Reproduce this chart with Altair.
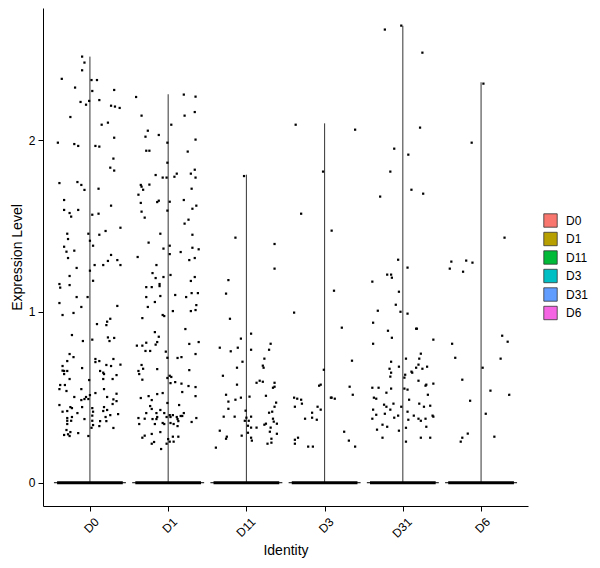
import json
import pandas as pd
import altair as alt

identities = ["D0", "D1", "D11", "D3", "D31", "D6"]
fill_colors = ["#F8766D", "#B79F00", "#00BA38", "#00BFC4", "#619CFF", "#F564E3"]
violin_max = [2.49, 2.27, 1.80, 2.10, 2.67, 2.34]

# non-zero cells: (jitter offset in category units, expression level)
points_D0 = [
    (-0.10, 2.49), (-0.07, 2.455), (-0.10, 2.41), (-0.36, 2.36), (0.02, 2.353), (0.09, 2.353),
    (-0.19, 2.309), (0.03, 2.289), (0.31, 2.295), (-0.12, 2.225), (-0.01, 2.231), (-0.05, 2.209),
    (0.12, 2.236), (0.27, 2.203), (0.32, 2.198), (0.38, 2.19), (-0.25, 2.137), (0.15, 2.092),
    (0.23, 2.104), (0.31, 2.016), (-0.41, 1.987), (-0.20, 1.979), (-0.15, 1.968), (0.07, 1.968),
    (0.12, 1.964), (0.30, 1.894), (0.26, 1.841), (0.31, 1.824), (-0.39, 1.751), (-0.16, 1.757),
    (-0.11, 1.74), (-0.07, 1.711), (0.11, 1.718), (-0.33, 1.652), (0.27, 1.619), (-0.33, 1.594),
    (-0.26, 1.576), (-0.24, 1.555), (-0.15, 1.594), (0.03, 1.566), (0.11, 1.572), (0.39, 1.49),
    (0.20, 1.471), (-0.29, 1.455), (-0.02, 1.455), (0.12, 1.449), (-0.28, 1.424), (0.00, 1.414),
    (-0.33, 1.379), (0.04, 1.385),
    (-0.30, 1.35), (-0.20, 1.356), (-0.28, 1.313), (-0.17, 1.255), (-0.26, 1.208), (-0.39, 1.161),
    (-0.38, 1.14), (-0.26, 1.155), (-0.17, 1.085), (-0.03, 1.085), (-0.39, 1.05), (-0.11, 1.027),
    (-0.35, 0.98), (-0.21, 0.992), (0.00, 1.239), (0.04, 1.18), (0.06, 1.272), (0.17, 1.272),
    (0.23, 1.296), (0.27, 1.331), (0.35, 1.301), (0.39, 1.272), (0.35, 1.033), (0.26, 0.958),
    (0.22, 0.941), (0.21, 0.921), (0.09, 0.927), (-0.23, 0.863), (-0.09, 0.828), (0.03, 0.836),
    (0.23, 0.849), (0.31, 0.846), (0.25, 0.828), (-0.26, 0.752), (-0.21, 0.734), (-0.29, 0.711),
    (-0.35, 0.682), (-0.35, 0.655), (-0.33, 0.653), (-0.29, 0.653), (-0.33, 0.635), (-0.10, 0.67),
    (-0.26, 0.606), (0.07, 0.723), (0.07, 0.705), (0.12, 0.711), (0.30, 0.723), (0.39, 0.69),
    (0.21, 0.688), (0.27, 0.682), (0.13, 0.653), (0.17, 0.643), (0.18, 0.635), (0.34, 0.629),
    (0.17, 0.606), (0.29, 0.606), (-0.01, 0.60), (-0.38, 0.571), (-0.32, 0.571), (-0.39, 0.547),
    (-0.11, 0.547), (-0.30, 0.536), (0.00, 0.512), (0.07, 0.524), (0.18, 0.547), (0.34, 0.52),
    (-0.20, 0.501), (-0.05, 0.501), (-0.07, 0.489), (-0.11, 0.483), (-0.02, 0.489), (0.22, 0.501),
    (0.30, 0.487), (0.34, 0.477), (-0.39, 0.454), (-0.25, 0.442), (-0.23, 0.436), (-0.10, 0.442),
    (-0.35, 0.415), (-0.29, 0.419), (-0.16, 0.407), (0.03, 0.436), (0.04, 0.415), (0.18, 0.442),
    (0.22, 0.425), (0.29, 0.46), (0.17, 0.419), (0.26, 0.395), (0.36, 0.401), (-0.29, 0.378),
    (-0.23, 0.384), (-0.29, 0.362), (-0.24, 0.362), (0.03, 0.392), (0.03, 0.362), (-0.07, 0.372),
    (0.20, 0.384), (0.13, 0.36), (0.21, 0.36), (-0.29, 0.343), (0.04, 0.337), (0.02, 0.321),
    (0.12, 0.331), (0.30, 0.32), (-0.30, 0.308), (-0.25, 0.296), (-0.28, 0.283), (-0.33, 0.279),
    (-0.15, 0.29), (-0.02, 0.273), (-0.26, 0.273),
]

points_D1 = [
    (-0.41, 2.254), (0.20, 2.268), (0.35, 2.256), (0.34, 2.166), (0.21, 2.145), (-0.34, 2.145),
    (0.04, 2.092), (-0.26, 2.057), (-0.12, 2.032), (-0.29, 2.022), (0.35, 2.005), (-0.28, 1.94),
    (-0.24, 1.94), (0.25, 1.935), (-0.01, 1.987), (-0.01, 1.87), (0.34, 1.829), (-0.16, 1.798),
    (-0.07, 1.783), (-0.02, 1.783), (0.08, 1.788), (0.11, 1.806), (0.29, 1.806), (0.35, 1.783),
    (-0.35, 1.74), (-0.34, 1.73), (-0.24, 1.742), (-0.32, 1.712), (0.30, 1.718), (-0.38, 1.683),
    (-0.35, 1.635), (-0.14, 1.64), (-0.12, 1.648), (0.02, 1.642), (0.20, 1.652), (0.36, 1.619),
    (0.31, 1.601), (-0.34, 1.584), (-0.30, 1.549), (-0.01, 1.59), (0.26, 1.537), (0.21, 1.514),
    (-0.10, 1.455), (0.31, 1.449), (-0.25, 1.403), (-0.06, 1.368), (0.02, 1.385), (0.31, 1.373),
    (0.39, 1.364),
    (0.02, 1.336), (0.16, 1.348), (-0.39, 1.319), (-0.15, 1.272), (0.34, 1.313), (0.27, 1.301),
    (-0.20, 1.225), (-0.16, 1.196), (-0.06, 1.202), (0.03, 1.214), (0.34, 1.202), (0.29, 1.179),
    (-0.28, 1.143), (-0.21, 1.143), (-0.11, 1.161), (-0.11, 1.149), (0.09, 1.097), (-0.28, 1.085),
    (-0.10, 1.091), (0.23, 1.085), (0.30, 1.108), (0.38, 1.108), (-0.17, 1.056), (-0.26, 1.027),
    (0.36, 1.038), (0.35, 1.009), (0.29, 1.003), (0.06, 1.003), (-0.33, 0.962), (-0.07, 0.98),
    (-0.05, 0.974), (0.22, 0.898), (-0.17, 0.88), (-0.12, 0.853), (-0.14, 0.822), (-0.16, 0.807),
    (-0.28, 0.818), (-0.40, 0.801), (-0.33, 0.801), (-0.29, 0.77), (-0.23, 0.77), (-0.03, 0.766),
    (0.27, 0.811), (0.39, 0.822), (0.35, 0.752), (0.12, 0.729), (0.17, 0.734), (-0.01, 0.73),
    (-0.34, 0.688), (-0.32, 0.666), (-0.38, 0.653), (-0.37, 0.635), (-0.14, 0.664), (0.27, 0.658),
    (-0.33, 0.602), (-0.01, 0.612), (0.02, 0.625), (0.04, 0.618), (0.09, 0.588), (0.03, 0.582),
    (0.17, 0.579), (0.26, 0.565), (0.35, 0.559), (0.18, 0.53), (0.35, 0.506), (-0.14, 0.518),
    (-0.07, 0.524), (-0.01, 0.466), (-0.35, 0.495), (-0.25, 0.506), (-0.21, 0.483), (0.14, 0.454),
    (-0.23, 0.448), (-0.21, 0.431), (-0.28, 0.407), (-0.10, 0.425), (-0.15, 0.407), (-0.05, 0.407),
    (0.02, 0.395), (-0.14, 0.384), (-0.20, 0.372), (-0.15, 0.372), (-0.30, 0.374), (-0.38, 0.378),
    (-0.37, 0.343), (-0.17, 0.343), (-0.07, 0.349), (-0.05, 0.343), (-0.02, 0.384), (0.03, 0.384),
    (0.06, 0.395), (0.11, 0.384), (0.12, 0.372), (0.16, 0.39), (0.18, 0.39), (0.20, 0.407),
    (0.13, 0.36), (0.03, 0.349), (0.07, 0.343), (0.12, 0.331), (0.30, 0.355), (0.36, 0.378),
    (-0.10, 0.296), (-0.21, 0.285), (-0.33, 0.263), (-0.30, 0.275), (0.00, 0.255), (0.06, 0.269),
    (0.13, 0.269), (-0.02, 0.228), (-0.21, 0.228), (0.02, 0.24), (0.07, 0.24), (-0.09, 0.197),
    (-0.18, 0.238),
]

points_D11 = [
    (-0.03, 1.792), (-0.14, 1.432), (0.36, 1.395), (0.36, 1.251), (-0.23, 1.184), (-0.26, 1.105),
    (-0.21, 0.958), (0.06, 0.871), (-0.07, 0.842), (-0.34, 0.789), (-0.20, 0.768), (-0.11, 0.789),
    (0.06, 0.777), (0.31, 0.812), (0.29, 0.777), (-0.05, 0.707), (0.23, 0.725), (-0.12, 0.672),
    (0.21, 0.684), (0.22, 0.672), (-0.30, 0.625), (0.13, 0.584), (0.17, 0.596), (0.21, 0.59),
    (0.36, 0.584), (0.36, 0.561), (0.34, 0.555), (-0.12, 0.573), (-0.26, 0.514), (0.04, 0.503),
    (0.25, 0.508), (-0.07, 0.497), (-0.23, 0.474), (-0.14, 0.485), (0.38, 0.468), (0.36, 0.444),
    (-0.23, 0.432), (-0.01, 0.421), (0.29, 0.409), (0.33, 0.415), (-0.29, 0.386), (-0.15, 0.386),
    (0.06, 0.386), (0.00, 0.38), (-0.02, 0.362), (0.03, 0.362), (0.34, 0.374), (0.35, 0.357),
    (0.25, 0.345), (0.39, 0.345), (0.23, 0.339), (0.02, 0.333), (0.06, 0.322), (0.13, 0.322),
    (0.31, 0.322), (-0.34, 0.304), (0.02, 0.292), (0.30, 0.298), (0.39, 0.286), (-0.06, 0.275),
    (-0.25, 0.269), (-0.26, 0.257), (0.06, 0.263), (0.07, 0.246), (0.32, 0.257), (0.32, 0.234),
    (0.27, 0.228), (-0.39, 0.205),
]

points_D3 = [
    (-0.37, 2.092), (0.39, 2.063), (-0.02, 1.818), (-0.30, 1.572), (0.09, 1.473), (0.12, 1.122),
    (-0.39, 0.994), (0.22, 0.906), (0.35, 0.713), (-0.01, 0.66), (-0.07, 0.567), (-0.05, 0.573),
    (0.32, 0.561), (0.36, 0.514), (-0.39, 0.497), (-0.35, 0.491), (-0.30, 0.485), (0.08, 0.497),
    (0.09, 0.497), (0.13, 0.491), (-0.29, 0.462), (-0.38, 0.444), (-0.09, 0.444), (-0.05, 0.427),
    (-0.16, 0.409), (-0.25, 0.374), (-0.16, 0.38), (-0.10, 0.368), (0.25, 0.298), (-0.38, 0.251),
    (-0.34, 0.263), (-0.38, 0.228), (0.31, 0.246), (-0.21, 0.211), (-0.15, 0.211), (0.39, 0.211),
]

points_D31 = [
    (-0.02, 2.671), (-0.23, 2.648), (0.25, 2.513), (0.22, 2.075), (-0.11, 1.952), (0.07, 1.917),
    (-0.16, 1.818), (0.11, 1.712), (0.26, 1.689), (-0.29, 1.672),
    (-0.06, 1.303), (0.06, 1.257), (-0.20, 1.216), (-0.15, 1.216), (-0.14, 1.198), (-0.39, 1.175),
    (-0.05, 1.116), (-0.09, 1.04), (-0.32, 1.005), (-0.03, 0.999), (0.06, 0.988), (-0.38, 0.935),
    (-0.19, 0.888), (0.17, 0.90), (0.18, 0.90), (-0.14, 0.847), (-0.38, 0.812), (0.39, 0.836),
    (0.23, 0.754), (0.04, 0.725), (0.21, 0.725), (-0.15, 0.707), (0.20, 0.69), (-0.05, 0.678),
    (0.17, 0.672), (0.25, 0.666), (0.31, 0.678), (-0.17, 0.666), (-0.15, 0.643), (0.11, 0.649),
    (0.12, 0.643), (0.03, 0.631), (-0.16, 0.62), (0.02, 0.614), (0.20, 0.596), (0.39, 0.579),
    (0.30, 0.573), (0.29, 0.567), (-0.39, 0.555), (-0.31, 0.555), (-0.15, 0.55), (0.02, 0.55),
    (0.06, 0.544), (-0.21, 0.526), (0.32, 0.514), (-0.37, 0.497), (-0.34, 0.491), (0.08, 0.485),
    (-0.12, 0.462), (-0.24, 0.456), (-0.21, 0.444), (0.21, 0.462), (0.27, 0.444), (0.35, 0.45),
    (-0.02, 0.444), (-0.38, 0.427), (-0.16, 0.427), (0.06, 0.415), (-0.23, 0.403), (-0.34, 0.397),
    (-0.06, 0.392), (0.38, 0.392), (0.39, 0.386), (0.14, 0.392), (-0.11, 0.38), (-0.39, 0.374),
    (0.07, 0.368), (0.20, 0.374), (0.29, 0.374), (0.23, 0.362), (-0.26, 0.339), (-0.20, 0.327),
    (0.30, 0.327), (0.04, 0.321), (-0.33, 0.31), (-0.05, 0.304), (-0.26, 0.263), (0.23, 0.263),
    (0.35, 0.263), (0.04, 0.24),
]

points_D6 = [
    (0.03, 2.332), (-0.12, 1.987), (0.30, 1.432), (-0.38, 1.292), (-0.19, 1.298), (-0.11, 1.286),
    (-0.40, 1.251), (-0.23, 1.233), (0.27, 0.859), (0.34, 0.824), (-0.37, 0.812), (0.25, 0.725),
    (-0.33, 0.73), (0.02, 0.672), (-0.24, 0.602), (0.12, 0.538), (0.36, 0.514), (-0.14, 0.479),
    (0.06, 0.403), (-0.17, 0.287), (-0.24, 0.263), (-0.26, 0.24), (0.17, 0.269),
]

all_points = [points_D0, points_D1, points_D11, points_D3, points_D31, points_D6]

rows = []
for i, (name, pts) in enumerate(zip(identities, all_points)):
    for off, val in pts:
        rows.append({"Identity": name, "pos": i + off, "value": val})
points_df = pd.DataFrame(rows)

violin_df = pd.DataFrame({
    "Identity": identities,
    "idx": list(range(len(identities))),
    "ymax": violin_max,
    "zero": [0.0] * len(identities),
})

label_expr = json.dumps(identities) + "[datum.value]"
x_scale = alt.Scale(domain=[-0.6, 5.6], nice=False, zero=False)
y_scale = alt.Scale(domain=[-0.136, 2.774], nice=False, zero=False)
x_axis = alt.Axis(values=list(range(6)), labelExpr=label_expr, labelAngle=-45,
                  labelAlign="right", labelBaseline="top", tickSize=5, labelPadding=5,
                  labelOffset=3, title="Identity", titlePadding=4, titleFontSize=14)
y_axis = alt.Axis(values=[0, 1, 2], tickSize=5, labelPadding=3, title="Expression Level",
                  titlePadding=4, titleFontSize=14)

base = alt.Chart(violin_df)

# legend keys (hidden beneath the zero band)
legend_layer = base.mark_square(size=1, opacity=1).encode(
    x=alt.X("idx:Q", scale=x_scale, axis=x_axis),
    y=alt.Y("zero:Q", scale=y_scale, axis=y_axis),
    color=alt.Color("Identity:N", scale=alt.Scale(domain=identities, range=fill_colors),
                    legend=alt.Legend(title=None, orient="none", legendX=500, legendY=205,
                                      symbolType="square", symbolSize=180,
                                      symbolStrokeColor="#333333", symbolStrokeWidth=0.8,
                                      symbolOpacity=1,
                                      labelFontSize=12, labelFont="Liberation Sans",
                                      labelColor="black", labelOffset=8, rowPadding=1.5,
                                      padding=0))
)

violin_base = base.transform_calculate(
    left="datum.idx - 0.46", right="datum.idx + 0.46",
    bar_left="datum.idx - 0.42", bar_right="datum.idx + 0.42",
)

thin_zero = violin_base.mark_rule(color="black", strokeWidth=1).encode(
    x=alt.X("left:Q", scale=x_scale, axis=x_axis), x2="right:Q",
    y=alt.Y("zero:Q", scale=y_scale, axis=y_axis),
)

thick_zero = violin_base.mark_rule(color="black", strokeWidth=3).encode(
    x=alt.X("bar_left:Q", scale=x_scale, axis=x_axis), x2="bar_right:Q",
    y=alt.Y("zero:Q", scale=y_scale, axis=y_axis),
)

stems = base.mark_rule(color="#333333", strokeWidth=1).encode(
    x=alt.X("idx:Q", scale=x_scale, axis=x_axis),
    y=alt.Y("zero:Q", scale=y_scale, axis=y_axis), y2="ymax:Q",
)

dots = alt.Chart(points_df).mark_square(size=5, color="black", opacity=1).encode(
    x=alt.X("pos:Q", scale=x_scale, axis=x_axis),
    y=alt.Y("value:Q", scale=y_scale, axis=y_axis),
)

chart = alt.layer(legend_layer, thin_zero, stems, thick_zero, dots).properties(
    width=485,
    height=498,
    padding={"left": 35, "top": 0, "right": 64, "bottom": 54},
    autosize=alt.AutoSizeParams(type="none"),
).configure_view(
    stroke=None
).configure_axis(
    grid=False,
    domainColor="black",
    domainWidth=1,
    tickColor="black",
    tickWidth=1,
    labelFont="Liberation Sans",
    labelFontSize=12,
    labelColor="black",
    titleFont="Liberation Sans",
    titleColor="black",
    titleFontWeight="normal",
)

chart.save("out.html", embed_options={"renderer": "svg", "actions": False})
